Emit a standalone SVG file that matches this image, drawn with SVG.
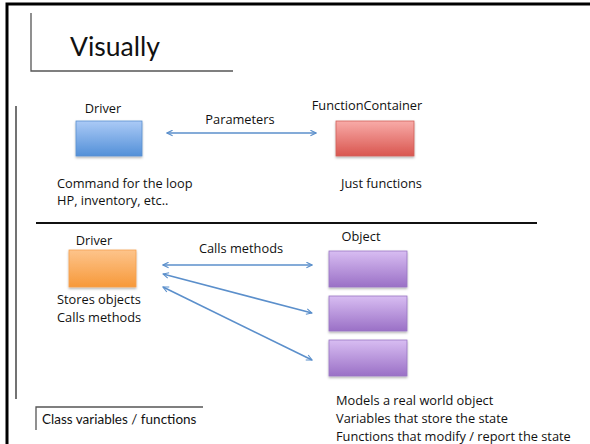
<svg xmlns="http://www.w3.org/2000/svg" width="590" height="444" viewBox="0 0 590 444">
<style>
.t{font-family:"Open Sans","Liberation Sans",sans-serif;font-size:12.8px;fill:#111}
.g{font-family:Lato,"Liberation Sans",sans-serif;fill:#111}
.frame{stroke:#000;stroke-width:3;fill:none}
.brk{stroke:#555;stroke-width:1.3;fill:none}
.conn{stroke:#5b8fcb;stroke-width:1.6;fill:none;marker-end:url(#ah);marker-start:url(#ah)}
</style>
<defs>
<marker id="ah" viewBox="0 0 10 10" refX="9" refY="5" markerWidth="7" markerHeight="7" markerUnits="userSpaceOnUse" orient="auto-start-reverse">
<path d="M1,1 L9,5 L1,9" fill="none" stroke="#5b8fcb" stroke-width="1.6"/>
</marker>
<linearGradient id="gb" x1="0" y1="0" x2="0" y2="1"><stop offset="0" stop-color="#abcaf6"/><stop offset="1" stop-color="#5390d8"/></linearGradient>
<linearGradient id="gr" x1="0" y1="0" x2="0" y2="1"><stop offset="0" stop-color="#f8aba8"/><stop offset="1" stop-color="#d9564f"/></linearGradient>
<linearGradient id="go" x1="0" y1="0" x2="0" y2="1"><stop offset="0" stop-color="#fdc48b"/><stop offset="1" stop-color="#f7993a"/></linearGradient>
<linearGradient id="gp" x1="0" y1="0" x2="0" y2="1"><stop offset="0" stop-color="#d8bdf2"/><stop offset="1" stop-color="#9a70c6"/></linearGradient>
<filter id="sh" x="-10%" y="-10%" width="130%" height="140%"><feDropShadow dx="0" dy="1.5" stdDeviation="1" flood-color="#000" flood-opacity="0.3"/></filter>
</defs>
<rect width="590" height="444" fill="#fff"/>
<path class="frame" d="M7,444 V4 H590"/>
<path class="brk" d="M31,13 V71 H233"/>
<text class="g" x="70" y="56" font-size="26.5">Visually</text>
<path d="M16,106 V399" stroke="#444" stroke-width="1.5"/>
<path d="M36,223 H537" stroke="#111" stroke-width="2"/>
<path class="brk" d="M36,430 V407 H203"/>
<text class="g" x="42" y="424" font-size="13.5">Class variables / functions</text>

<g id="driver1">
<text class="t" x="103" y="113" text-anchor="middle">Driver</text>
<rect x="76" y="121" width="66" height="35" fill="url(#gb)" stroke="#5a8fd0" stroke-width="0.8" filter="url(#sh)"/>
<text class="t" x="57" y="188">Command for the loop</text>
<text class="t" x="57" y="205">HP, inventory, etc..</text>
</g>
<g id="functioncontainer">
<text class="t" x="367" y="110" text-anchor="middle">FunctionContainer</text>
<rect x="336" y="121" width="78" height="35" fill="url(#gr)" stroke="#d0605a" stroke-width="0.8" filter="url(#sh)"/>
<text class="t" x="341" y="188">Just functions</text>
</g>
<g id="driver2">
<text class="t" x="94" y="245" text-anchor="middle">Driver</text>
<rect x="69" y="250" width="67" height="37" fill="url(#go)" stroke="#f5a050" stroke-width="0.8" filter="url(#sh)"/>
<text class="t" x="57" y="304">Stores objects</text>
<text class="t" x="57" y="322">Calls methods</text>
</g>
<g id="object1">
<text class="t" x="361" y="241" text-anchor="middle">Object</text>
<rect x="329" y="251" width="78" height="36" fill="url(#gp)" stroke="#9a77c4" stroke-width="0.8" filter="url(#sh)"/>
</g>
<g id="object2">
<rect x="329" y="296" width="78" height="35" fill="url(#gp)" stroke="#9a77c4" stroke-width="0.8" filter="url(#sh)"/>
</g>
<g id="object3">
<rect x="329" y="340" width="78" height="36" fill="url(#gp)" stroke="#9a77c4" stroke-width="0.8" filter="url(#sh)"/>
<text class="t" x="336" y="405">Models a real world object</text>
<text class="t" x="336" y="423">Variables that store the state</text>
<text class="t" x="336" y="441">Functions that modify / report the state</text>
</g>
<g id="connectors">
<line class="conn" x1="167" y1="133" x2="316" y2="133"/>
<text class="t" x="240" y="124" text-anchor="middle">Parameters</text>
<line class="conn" x1="163" y1="265" x2="312" y2="265"/>
<text class="t" x="241" y="253" text-anchor="middle">Calls methods</text>
<line class="conn" x1="163" y1="274" x2="312" y2="313"/>
<line class="conn" x1="163" y1="287" x2="312" y2="360"/>
</g>
</svg>
